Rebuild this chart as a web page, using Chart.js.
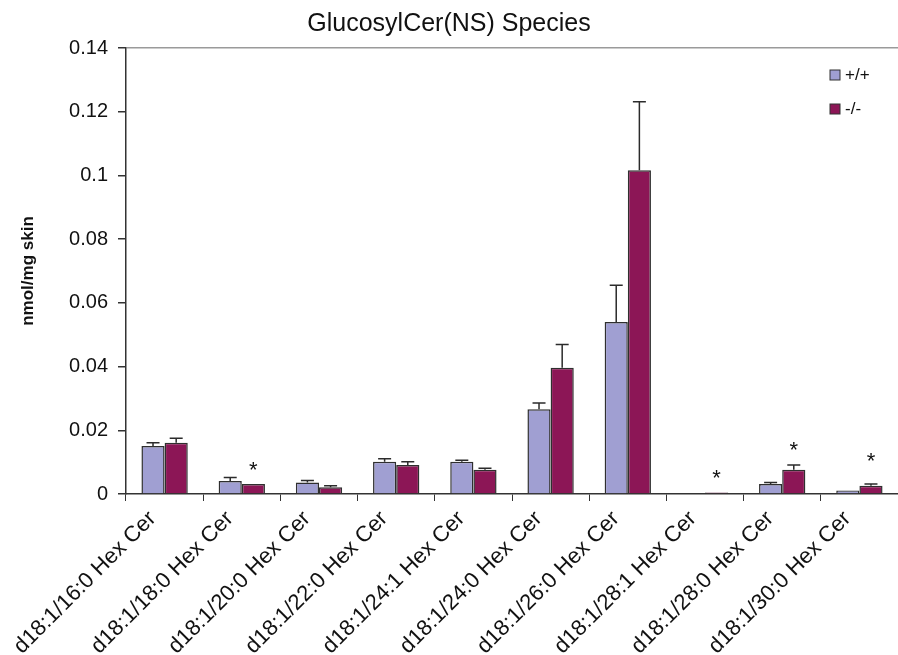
<!DOCTYPE html>
<html>
<head>
<meta charset="utf-8">
<script src="https://cdn.jsdelivr.net/npm/chart.js@4"></script>
<style>
  html, body { margin: 0; padding: 0; background: #fff; }
  #wrap { width: 898px; height: 655px; }
</style>
</head>
<body>
<div id="wrap"><canvas id="glcChart"></canvas></div>
<script>
// categories
var species = ['d18:1/16:0 Hex Cer', 'd18:1/18:0 Hex Cer', 'd18:1/20:0 Hex Cer', 'd18:1/22:0 Hex Cer',
  'd18:1/24:1 Hex Cer', 'd18:1/24:0 Hex Cer', 'd18:1/26:0 Hex Cer', 'd18:1/28:1 Hex Cer',
  'd18:1/28:0 Hex Cer', 'd18:1/30:0 Hex Cer'];

// +/+ means and error
var wtValues = [0.0151, 0.0041, 0.0036, 0.0101, 0.0101, 0.0266, 0.0540, 0, 0.0031, 0.0011];
var wtErrors = [0.0010, 0.0011, 0.0006, 0.0010, 0.0005, 0.0020, 0.0115, 0, 0.0005, 0];

// -/- means and error
var koValues = [0.0161, 0.0031, 0.0021, 0.0091, 0.0076, 0.0396, 0.1016, 0.0005, 0.0076, 0.0026];
var koErrors = [0.0014, 0, 0.0005, 0.0010, 0.0005, 0.0073, 0.0215, 0, 0.0015, 0.0005];

// significance marks on the -/- bars, and the level (in y units) they sit at
var koStars = ['', '*', '', '', '', '', '', '*', '*', '*'];
var koStarLevels = [0, 0.0082, 0, 0, 0, 0, 0, 0.0057, 0.0145, 0.0110];

var yTickLabels = ['0', '0.02', '0.04', '0.06', '0.08', '0.1', '0.12', '0.14'];

var errors = [wtErrors, koErrors];
var FONT = 'Arial, "Liberation Sans", sans-serif';

var errorBarPlugin = {
  id: 'errorBars',
  afterDatasetsDraw: function(chart) {
    var ctx = chart.ctx;
    var yScale = chart.scales.y;
    ctx.save();
    ctx.strokeStyle = '#2b2b2b';
    ctx.lineWidth = 1.5;
    chart.data.datasets.forEach(function(ds, di) {
      var meta = chart.getDatasetMeta(di);
      meta.data.forEach(function(bar, i) {
        var err = errors[di][i];
        if (!err) return;
        var top = yScale.getPixelForValue(ds.data[i] + err);
        ctx.beginPath();
        ctx.moveTo(bar.x, bar.y);
        ctx.lineTo(bar.x, top);
        ctx.moveTo(bar.x - 6.5, top);
        ctx.lineTo(bar.x + 6.5, top);
        ctx.stroke();
      });
    });
    // stars
    var meta = chart.getDatasetMeta(1);
    ctx.fillStyle = '#111';
    ctx.font = '22px ' + FONT;
    ctx.textAlign = 'center';
    ctx.textBaseline = 'middle';
    meta.data.forEach(function(bar, i) {
      if (!koStars[i]) return;
      ctx.fillText(koStars[i], bar.x, yScale.getPixelForValue(koStarLevels[i]) + 3);
    });
    ctx.restore();
  }
};

var legendPlugin = {
  id: 'boxLegend',
  afterDraw: function(chart) {
    var ctx = chart.ctx;
    ctx.save();
    ctx.font = '17px ' + FONT;
    ctx.textBaseline = 'middle';
    ctx.textAlign = 'left';
    chart.data.datasets.forEach(function(ds, di) {
      var cy = 75 + di * 34;
      ctx.fillStyle = ds.backgroundColor;
      ctx.fillRect(830, cy - 5, 10, 10);
      ctx.strokeStyle = '#333';
      ctx.lineWidth = 1;
      ctx.strokeRect(830, cy - 5, 10, 10);
      ctx.fillStyle = '#111';
      ctx.fillText(ds.label, 845, cy);
    });
    ctx.restore();
  }
};

var ctx = document.getElementById('glcChart').getContext('2d');
var chart = new Chart(ctx, {
  type: 'bar',
  data: {
    labels: species,
    datasets: [{
      label: '+/+',
      backgroundColor: '#a09fd2',
      borderColor: '#2f2f2f',
      borderWidth: 1.5,
      data: wtValues
    }, {
      label: '-/-',
      backgroundColor: '#8c1656',
      borderColor: '#2f2f2f',
      borderWidth: 1.5,
      data: koValues
    }]
  },
  options: {
    responsive: true,
    maintainAspectRatio: false,
    animation: false,
    layout: { padding: { left: 0, right: 0, top: 0, bottom: 0 } },
    datasets: { bar: { categoryPercentage: 0.6, barPercentage: 1.0 } },
    plugins: {
      legend: { display: false },
      tooltip: { enabled: false },
      title: {
        display: true,
        text: 'GlucosylCer(NS) Species',
        color: '#111',
        font: { family: FONT, size: 25, weight: 'normal' },
        padding: { top: 9, bottom: 9 }
      }
    },
    scales: {
      x: {
        offset: true,
        grid: { display: true, offset: true, drawOnChartArea: false, color: '#333', tickLength: 7 },
        border: { color: '#333', width: 1.5 },
        ticks: {
          autoSkip: false,
          minRotation: 45,
          maxRotation: 45,
          color: '#111',
          padding: 5,
          labelOffset: -12,
          font: { family: FONT, size: 22 }
        },
        afterFit: function(scale) { scale.height = 161; }
      },
      y: {
        min: 0,
        max: 0.14,
        ticks: {
          stepSize: 0.02,
          color: '#111',
          padding: 10,
          font: { family: FONT, size: 20 },
          callback: function(v, i) { return yTickLabels[i]; }
        },
        grid: {
          drawOnChartArea: true,
          color: function(c) { return c.tick && c.tick.value >= 0.14 ? '#9a9a9a' : 'rgba(0,0,0,0)'; },
          tickColor: '#333',
          tickLength: 8,
          lineWidth: 1.5
        },
        border: { color: '#333', width: 1.5 },
        title: {
          display: true,
          text: 'nmol/mg skin',
          color: '#111',
          font: { family: FONT, size: 17, weight: 'bold' },
          padding: { top: 18, bottom: 0 }
        },
        afterFit: function(scale) { scale.width = 126; }
      }
    }
  },
  plugins: [errorBarPlugin, legendPlugin]
});
</script>
</body>
</html>
